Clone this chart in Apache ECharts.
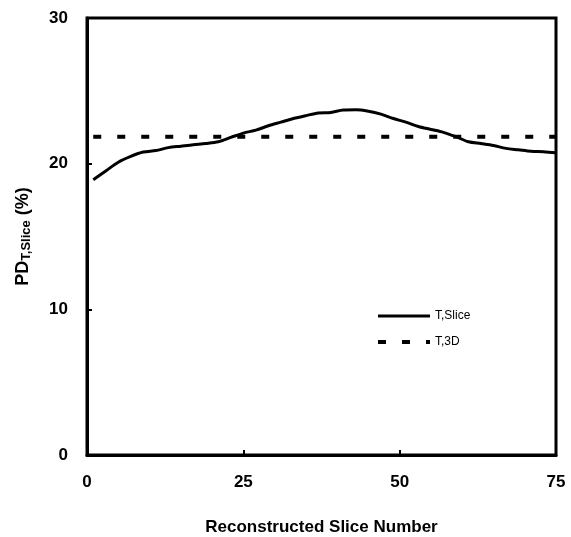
<!DOCTYPE html>
<html>
<head>
<meta charset="utf-8">
<script src="https://cdn.jsdelivr.net/npm/echarts@6/dist/echarts.min.js"></script>
<style>
	html, body { margin: 0; padding: 0; background: #fff; }
	#chart { width: 571px; height: 537px; }
</style>
</head>
<body>
<div id="chart"></div>
<script>
// slice number vs PD (%)
const slices = [1, 3, 5, 7, 9, 11, 13, 15, 17, 19, 21, 23, 25, 27, 29, 31, 33, 35, 37,
	39, 41, 43, 45, 47, 49, 51, 53, 55, 57, 59, 61, 63, 65, 67, 69, 71, 73, 75];
const pdSlice = [18.9, 19.5, 20.1, 20.5, 20.8, 20.9, 21.1, 21.2, 21.3, 21.38, 21.5, 21.8, 22.1,
	22.3, 22.6, 22.85, 23.1, 23.3, 23.48, 23.52, 23.68, 23.7, 23.6, 23.4, 23.1, 22.85, 22.55,
	22.35, 22.15, 21.85, 21.5, 21.38, 21.25, 21.05, 20.95, 20.85, 20.82, 20.75];
const pd3dRange = [1, 75];
const pd3d = 21.85;
const xTicks = [0, 25, 50, 75];
const yTicks = [0, 10, 20, 30];

const FONT = 'Liberation Sans, Arial, sans-serif';
const chart = echarts.init(document.getElementById('chart'));

const tickLabel = { fontFamily: FONT, fontSize: 17, fontWeight: 'bold', color: '#000' };
const solidStyle = { color: '#000', width: 3 };
const dashStyle = { color: '#000', width: 4, type: [8, 16] };

chart.setOption({
	animation: false,
	grid: {
		left: 87, right: 15, top: 18, bottom: 82,
		containLabel: false, outerBoundsMode: 'none',
		show: true, borderColor: '#000', borderWidth: 3
	},
	legend: {
		orient: 'vertical',
		left: 371, top: 305,
		itemWidth: 52, itemHeight: 12, itemGap: 14,
		itemStyle: { opacity: 0 },
		textStyle: { fontFamily: FONT, fontSize: 12, color: '#000' },
		data: [
			{ name: 'T,Slice', lineStyle: solidStyle },
			{ name: 'T,3D', lineStyle: dashStyle }
		]
	},
	xAxis: {
		type: 'value',
		min: xTicks[0], max: xTicks[xTicks.length - 1], interval: 25,
		name: 'Reconstructed Slice Number',
		nameLocation: 'middle', nameGap: 64,
		nameTextStyle: { fontFamily: FONT, fontSize: 17, fontWeight: 'bold', color: '#000' },
		axisLine: { lineStyle: { color: '#000', width: 3 } },
		axisTick: { inside: true, length: 5, lineStyle: { color: '#000', width: 2 } },
		axisLabel: Object.assign({ margin: 19 }, tickLabel),
		splitLine: { show: false }
	},
	yAxis: {
		type: 'value',
		min: yTicks[0], max: yTicks[yTicks.length - 1], interval: 10,
		name: '{a|PD}{b|T,Slice}{a| (%)}',
		nameLocation: 'middle', nameGap: 54,
		nameTextStyle: {
			rich: {
				a: { fontFamily: FONT, fontSize: 18, fontWeight: 'bold', color: '#000' },
				b: { fontFamily: FONT, fontSize: 13, fontWeight: 'bold', color: '#000', verticalAlign: 'bottom', padding: [6, 0, 0, 0] }
			}
		},
		axisLine: { lineStyle: { color: '#000', width: 3 } },
		axisTick: { inside: true, length: 5, lineStyle: { color: '#000', width: 2 } },
		axisLabel: Object.assign({ margin: 19 }, tickLabel),
		splitLine: { show: false }
	},
	series: [
		{
			name: 'T,Slice',
			type: 'line',
			data: slices.map((s, i) => [s, pdSlice[i]]),
			smooth: 0.3,
			symbol: 'none',
			lineStyle: solidStyle,
			itemStyle: { color: '#000' }
		},
		{
			name: 'T,3D',
			type: 'line',
			data: pd3dRange.map(s => [s, pd3d]),
			symbol: 'none',
			lineStyle: dashStyle,
			itemStyle: { color: '#000' }
		}
	]
});
</script>
</body>
</html>
